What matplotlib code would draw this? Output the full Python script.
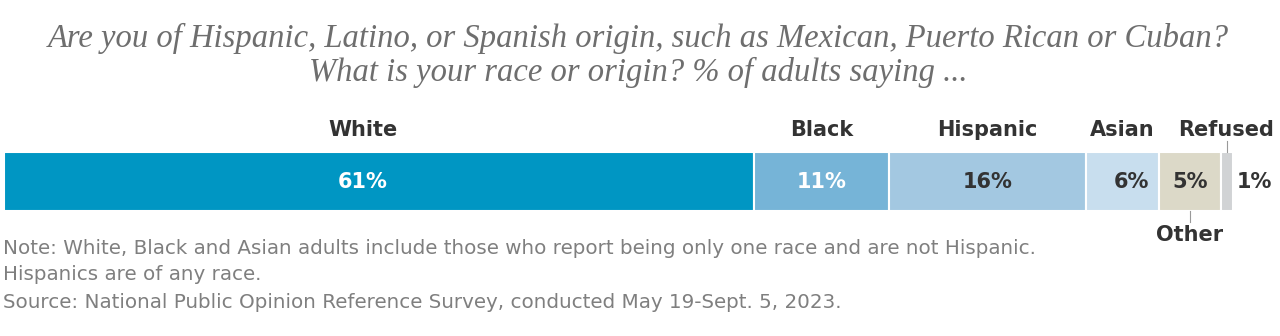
import matplotlib
matplotlib.use("Agg")
import matplotlib.pyplot as plt

categories = ["White", "Black", "Hispanic", "Asian", "Other", "Refused"]
values = [61, 11, 16, 6, 5, 1]
value_labels = ["61%", "11%", "16%", "6%", "5%", "1%"]
colors = ["#0096c3", "#76b4d7", "#a3c8e1", "#c8deee", "#dcd9c8", "#d1d3d5"]
text_colors = ["white", "white", "#333333", "#333333", "#333333", "#333333"]

W, H = 1280, 336
fig = plt.figure(figsize=(W / 100, H / 100), dpi=100)

def px(x, y):
    return x / W, 1 - y / H

title_kw = dict(ha="center", va="center", family="Liberation Serif", style="italic",
                fontsize=23.5, color="#6e6e6e")
fig.text(*px(638, 38), "Are you of Hispanic, Latino, or Spanish origin, such as Mexican, Puerto Rican or Cuban?", **title_kw)
fig.text(*px(638, 72), "What is your race or origin? % of adults saying ...", **title_kw)

# bar axes: spans x 4..1233 px, y 152..211 px
ax = fig.add_axes([4 / W, 1 - 211 / H, 1229 / W, 59 / H])
ax.set_xlim(0, 100)
ax.set_ylim(-0.5, 0.5)
ax.axis("off")

left = 0
mids = []
for v, c in zip(values, colors):
    ax.barh(0, v, left=left, height=1, color=c, edgecolor="white", linewidth=1.5)
    mids.append(left + v / 2)
    left += v

lab_kw = dict(fontsize=15, fontweight="bold", color="#333333", clip_on=False)

# percent labels
for cat, m, lab, tc in zip(categories, mids, value_labels, text_colors):
    kw = dict(lab_kw, color=tc)
    if cat == "Refused":
        ax.text(100.3, 0, lab, ha="left", va="center", **kw)
    elif cat == "Asian":
        ax.text(m + 0.7, 0, lab, ha="center", va="center", **kw)
    elif cat == "White":
        ax.text(m - 1.3, 0, lab, ha="center", va="center", **kw)
    else:
        ax.text(m, 0, lab, ha="center", va="center", **kw)

# category labels above / below the bar
for cat, m in zip(categories, mids):
    if cat == "Other":
        ax.plot([m, m], [-0.5, -0.68], color="#999999", lw=0.8, clip_on=False)
        ax.text(m, -0.5 - 24 / 59, cat, ha="center", va="center", **lab_kw)
    elif cat == "Refused":
        ax.plot([m, m], [0.5, 0.68], color="#999999", lw=0.8, clip_on=False)
        ax.text(m - 0.1, 0.5 + 22 / 59, cat, ha="center", va="center", **lab_kw)
    else:
        x = m - 1.3 if cat == "White" else m
        ax.text(x, 0.5 + 22 / 59, cat, ha="center", va="center", **lab_kw)

notes = ["Note: White, Black and Asian adults include those who report being only one race and are not Hispanic.",
         "Hispanics are of any race.",
         "Source: National Public Opinion Reference Survey, conducted May 19-Sept. 5, 2023."]
for y, line in zip([249, 275, 303], notes):
    fig.text(*px(3, y), line, ha="left", va="center", fontsize=14.3, color="#7f7f7f")

fig.savefig("out.png", dpi=100)
